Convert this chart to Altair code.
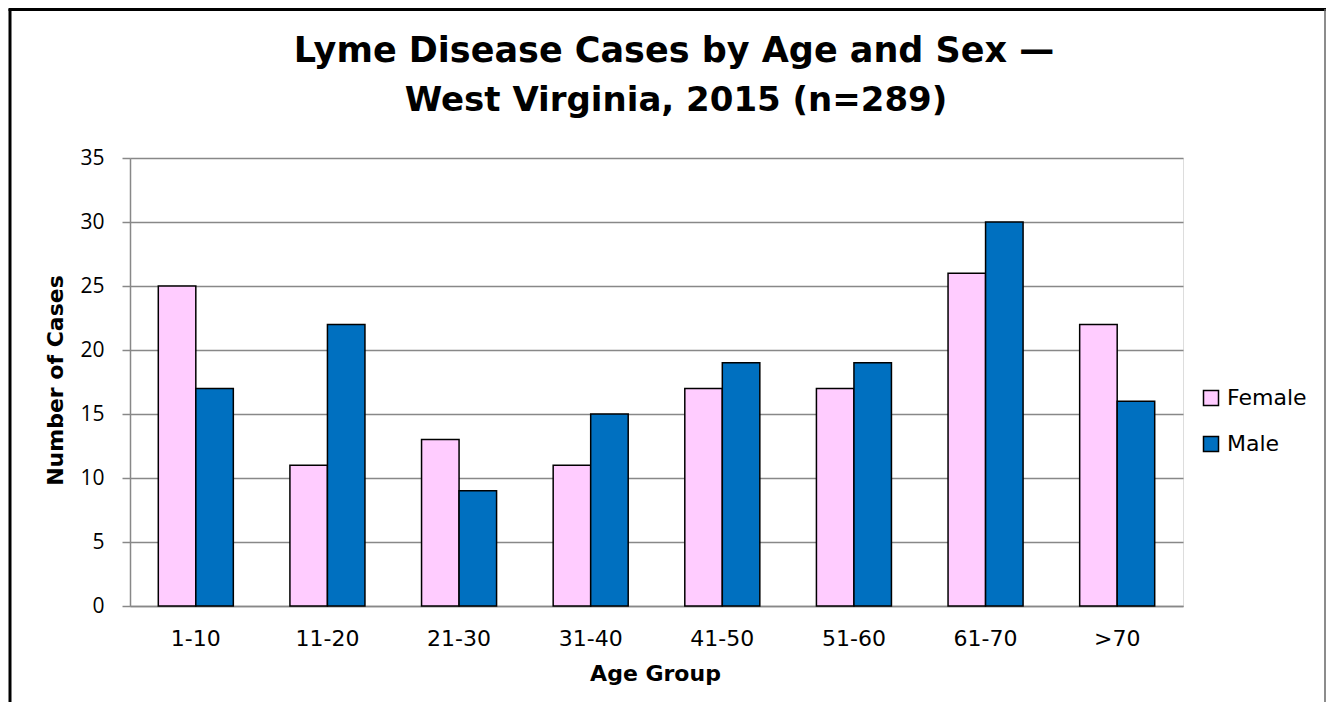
import altair as alt
import pandas as pd

age_groups = ["1-10", "11-20", "21-30", "31-40", "41-50", "51-60", "61-70", ">70"]
female = [25, 11, 13, 11, 17, 17, 26, 22]
male = [17, 22, 9, 15, 19, 19, 30, 16]
sexes = ["Female", "Male"]
colors = ["#FFCCFF", "#0070C0"]
y_ticks = [0, 5, 10, 15, 20, 25, 30, 35]
title_lines = ["Lyme Disease Cases by Age and Sex \u2014", "West Virginia, 2015 (n=289)"]

rows = []
for g, f, m in zip(age_groups, female, male):
    rows.append({"Age Group": g, "Sex": "Female", "Cases": f})
    rows.append({"Age Group": g, "Sex": "Male", "Cases": m})
df = pd.DataFrame(rows)

W, H = 1053, 448
FONT = "DejaVu Sans"

bars = alt.Chart(df).mark_bar(stroke="black", strokeWidth=1.5).encode(
    x=alt.X("Age Group:N", sort=age_groups,
            scale=alt.Scale(paddingInner=0.43, paddingOuter=0.215),
            axis=alt.Axis(title="Age Group", labelAngle=0, labelFont=FONT,
                          labelFontSize=22, labelColor="black", labelBaseline="alphabetic",
                          labelPadding=39, ticks=False, tickSize=0,
                          domainColor="#888888", domainWidth=1.5,
                          titleFont=FONT, titleFontSize=22, titleFontWeight="bold",
                          titleColor="black", titleBaseline="alphabetic",
                          titleX=525, titleY=74, titleAlign="center")),
    xOffset=alt.XOffset("Sex:N", sort=sexes),
    y=alt.Y("Cases:Q", scale=alt.Scale(domain=[0, 35], nice=False),
            axis=alt.Axis(title="Number of Cases", values=y_ticks, labelFont="Open Sans",
                          labelFontSize=21, labelColor="black", labelPadding=18,
                          tickSize=8, tickColor="#888888", tickWidth=1.5,
                          domainColor="#888888", domainWidth=1.5,
                          gridColor="#888888", gridWidth=1.5,
                          titleFont=FONT, titleFontSize=22, titleFontWeight="bold",
                          titleColor="black", titleBaseline="middle", titleAngle=-90,
                          titleX=-75, titleY=222, titleAlign="center")),
    color=alt.Color("Sex:N", sort=sexes, scale=alt.Scale(domain=sexes, range=colors),
                    legend=alt.Legend(title=None, orient="none", legendX=1070, legendY=229,
                                      symbolType="square", symbolSize=225,
                                      symbolStrokeColor="black", symbolStrokeWidth=1.5,
                                      labelFont=FONT, labelFontSize=22,
                                      labelColor="black", rowPadding=24, labelOffset=5)),
)

title_df = pd.DataFrame({"line": title_lines, "row": [0, 1]})
title_1 = alt.Chart(title_df.iloc[[0]]).mark_text(
    font=FONT, fontSize=35, fontWeight="bold", color="black",
    align="center", baseline="alphabetic", clip=False).encode(
    text="line:N", x=alt.value(544), y=alt.value(-96))
title_2 = alt.Chart(title_df.iloc[[1]]).mark_text(
    font=FONT, fontSize=34, fontWeight="bold", color="black",
    align="center", baseline="alphabetic", clip=False).encode(
    text="line:N", x=alt.value(546), y=alt.value(-47))

frame_df = pd.DataFrame({"k": [0]})
left_border = alt.Chart(frame_df).mark_rule(color="black", strokeWidth=3, clip=False).encode(
    x=alt.value(-120), y=alt.value(-149), y2=alt.value(H + 96))
top_border = alt.Chart(frame_df).mark_rule(color="black", strokeWidth=3, clip=False).encode(
    x=alt.value(-121.5), x2=alt.value(1196), y=alt.value(-148.5))
right_border = alt.Chart(frame_df).mark_rule(color="#666666", strokeWidth=1.5, clip=False).encode(
    x=alt.value(1195), y=alt.value(-149), y2=alt.value(H + 96))

chart = alt.layer(bars, title_1, title_2, left_border, top_border, right_border).properties(
    width=W, height=H,
    padding={"left": 122, "top": 150, "right": 144, "bottom": 96},
    autosize=alt.AutoSizeParams(type="none"),
).configure_view(stroke=None).configure(background="white")

chart.save("out.html", embed_options={"renderer": "svg", "actions": False})
